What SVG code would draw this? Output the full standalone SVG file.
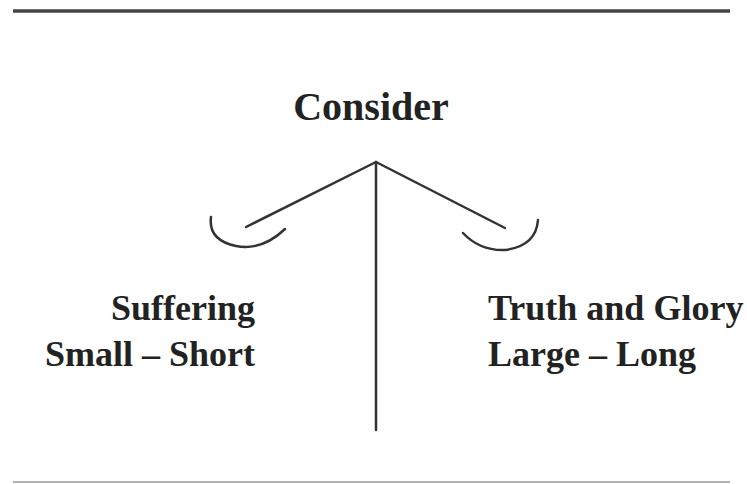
<svg xmlns="http://www.w3.org/2000/svg" width="747" height="484" viewBox="0 0 747 484">
<style>
.t{font-family:"Liberation Serif","Times New Roman",serif;font-weight:bold;fill:#222}
.ln{stroke:#333;stroke-width:2.5;fill:none;stroke-linecap:round}
</style>
<rect width="747" height="484" fill="#fff"/>
<line x1="13" y1="11" x2="730" y2="11" stroke="#444" stroke-width="3.5"/>
<line x1="13" y1="482" x2="730" y2="482" stroke="#999" stroke-width="1.5"/>
<g id="title"><text class="t" x="371" y="120" font-size="40" text-anchor="middle">Consider</text></g>
<g id="connectors">
<line class="ln" x1="376" y1="162" x2="376" y2="430"/>
<line class="ln" x1="376" y1="162" x2="246" y2="227"/>
<line class="ln" x1="376" y1="162" x2="505" y2="228"/>
</g>
<g id="left-pan"><path class="ln" d="M211,217 Q208,240 236,246 Q262,251 285,229"/></g>
<g id="right-pan"><path class="ln" d="M463,233 Q480,251 505,250 Q536,246 538,220"/></g>
<g id="left-label">
<text class="t" x="255" y="320" font-size="36" text-anchor="end">Suffering</text>
<text class="t" x="255" y="366" font-size="36" text-anchor="end">Small – Short</text>
</g>
<g id="right-label">
<text class="t" x="488" y="320" font-size="36">Truth and Glory</text>
<text class="t" x="488" y="366" font-size="36">Large – Long</text>
</g>
</svg>
